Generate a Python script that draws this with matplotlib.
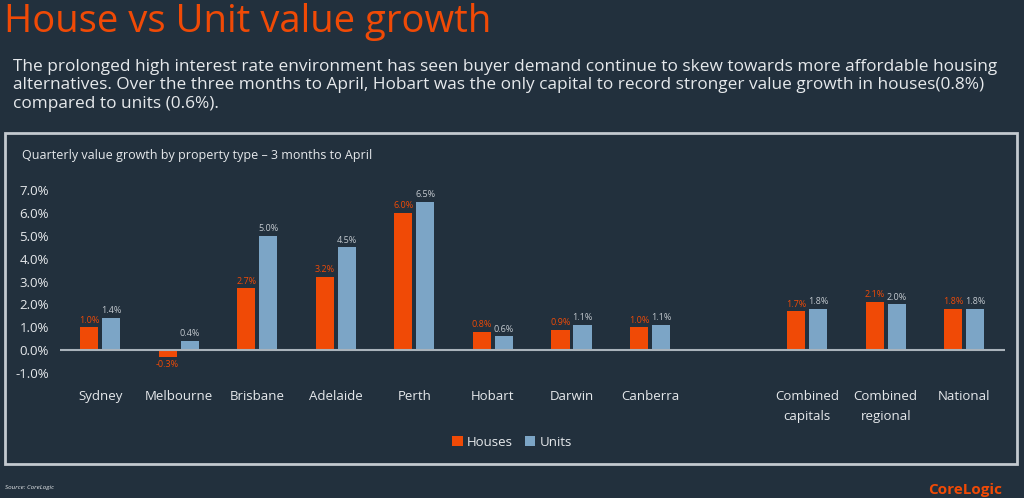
import matplotlib.pyplot as plt
import numpy as np
from matplotlib.patches import Rectangle

BG = '#22303d'
ORANGE = '#f04a06'
BLUE = '#7ca5c6'
TEXT = '#e6e9ec'
GREY = '#c3c9cf'

regions = ['Sydney', 'Melbourne', 'Brisbane', 'Adelaide', 'Perth', 'Hobart',
           'Darwin', 'Canberra', 'Combined\ncapitals', 'Combined\nregional', 'National']
houses = [1.0, -0.3, 2.7, 3.2, 6.0, 0.8, 0.9, 1.0, 1.7, 2.1, 1.8]
units = [1.4, 0.4, 5.0, 4.5, 6.5, 0.6, 1.1, 1.1, 1.8, 2.0, 1.8]
yticks = [-1, 0, 1, 2, 3, 4, 5, 6, 7]

plt.rcParams['font.family'] = ['Open Sans', 'DejaVu Sans']

fig = plt.figure(figsize=(10.24, 4.98), dpi=100)
fig.patch.set_facecolor(BG)

# header
fig.text(0.004, 0.955, 'House vs Unit value growth', color=ORANGE, fontsize=27.5,
         va='center', ha='left')
body = ('The prolonged high interest rate environment has seen buyer demand continue to skew towards more affordable housing\n'
        'alternatives. Over the three months to April, Hobart was the only capital to record stronger value growth in houses(0.8%)\n'
        'compared to units (0.6%).')
fig.text(0.013, 0.882, body, color=TEXT, fontsize=12.4, va='top', ha='left',
         linespacing=1.2)

# chart frame
fig.patches.append(Rectangle((5 / 1024, 1 - 464 / 498), 1012 / 1024, 331 / 498,
                             transform=fig.transFigure, fill=False,
                             edgecolor=GREY, linewidth=2))
fig.text(0.021, 0.687, 'Quarterly value growth by property type \u2013 3 months to April',
         color=TEXT, fontsize=9, va='center', ha='left')

ax = fig.add_axes([0.0586, 0.242, 0.923, 0.392])
ax.set_facecolor(BG)

x = np.arange(len(regions), dtype=float)
x[8:] += 1  # empty slot before the combined series
w = 0.23
gap = 0.025
hb = ax.bar(x - w / 2 - gap, houses, w, color=ORANGE, label='Houses')
ub = ax.bar(x + w / 2 + gap, units, w, color=BLUE, label='Units')

for rect, v in zip(hb, houses):
    y = v + 0.12 if v >= 0 else v - 0.15
    ax.text(rect.get_x() + rect.get_width() / 2, y, f'{v:.1f}%', color=ORANGE,
            fontsize=6.5, ha='center', va='bottom' if v >= 0 else 'top')
for rect, v in zip(ub, units):
    ax.text(rect.get_x() + rect.get_width() / 2, v + 0.12, f'{v:.1f}%', color=GREY,
            fontsize=6.5, ha='center', va='bottom')

ax.axhline(0, color='#aab3bb', linewidth=1.5)
ax.set_xlim(-0.51, 11.52)
ax.set_ylim(-1.2, 7.35)
ax.set_yticks(yticks)
ax.set_yticklabels([f'{t:.1f}%' for t in yticks])
ax.set_xticks(x)
ax.set_xticklabels(regions, linespacing=1.75)
ax.tick_params(axis='both', length=0, colors=TEXT, labelsize=9.5)
ax.tick_params(axis='x', pad=9)
ax.tick_params(axis='y', pad=8)
for s in ax.spines.values():
    s.set_visible(False)

leg = fig.legend(handles=[hb, ub], labels=['Houses', 'Units'], loc='center',
                 bbox_to_anchor=(0.5, 0.112), ncol=2, frameon=False,
                 fontsize=9.5, handlelength=0.8, handleheight=0.8,
                 handletextpad=0.3, columnspacing=0.9)
for t in leg.get_texts():
    t.set_color(TEXT)

fig.text(0.005, 0.022, 'Source: CoreLogic', color=TEXT, fontsize=4.5,
         fontstyle='italic', va='center')
fig.text(0.906, 0.003, 'CoreLogic', color=ORANGE, fontsize=11, va='bottom',
         fontweight='bold')

fig.savefig('out.png', dpi=100, facecolor=BG)
